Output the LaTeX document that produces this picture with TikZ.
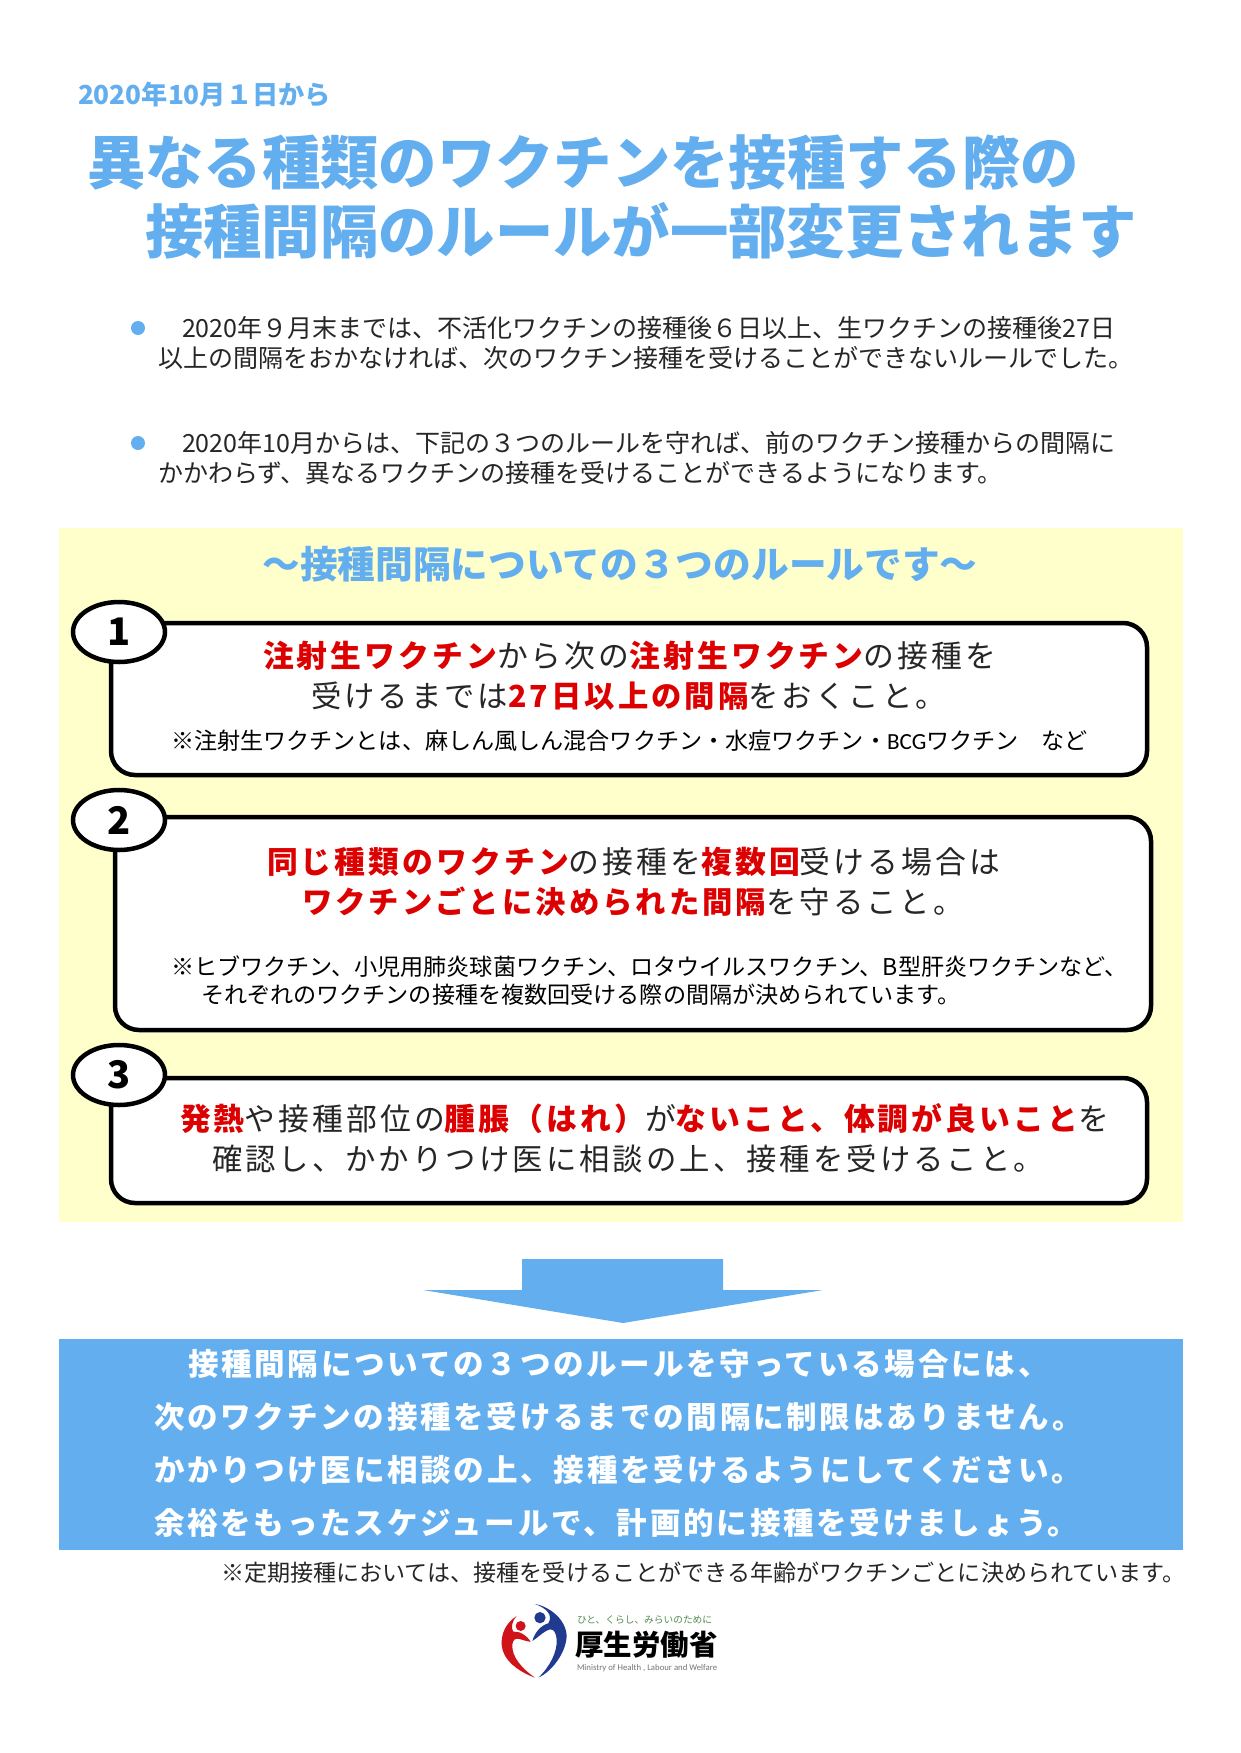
\documentclass[tikz,border=0pt]{standalone}
\usepackage{fontspec}
\usepackage{xcolor}
\usetikzlibrary{shapes.geometric}
\setmainfont{Noto Sans CJK JP}
\newfontfamily\carlitofont{Carlito}
\definecolor{skyblue}{HTML}{63AEEE}
\definecolor{paleyellow}{HTML}{FFFFCC}
\definecolor{rulered}{HTML}{DD0000}
\definecolor{mhlwred}{HTML}{D0121B}
\definecolor{mhlwblue}{HTML}{1F3A8F}
\definecolor{mhlwgreen}{HTML}{4F8A4F}
\newcommand{\hot}[1]{\textcolor{rulered}{\bfseries #1}}
\newcommand{\sized}[2]{\fontsize{#1}{#1}\selectfont\addfontfeature{LetterSpace=#2}}

\begin{document}
\begin{tikzpicture}[x=1pt,y=-1pt]%
  \tikzstyle{every node}=[inner sep=0,outer sep=0,anchor=west]
  \tikzstyle{datehead}=[text=skyblue,font=\sized{26.2}{0}\bfseries]
  \tikzstyle{bighead}=[text=skyblue,font=\sized{58.35}{0}\bfseries]
  \tikzstyle{bodyline}=[text=black!85,font=\sized{25}{0}]
  \tikzstyle{dotmark}=[circle,fill=skyblue,minimum size=14,anchor=center]
  \tikzstyle{rulehead}=[text=skyblue,font=\sized{37.7}{0}\bfseries,anchor=center]
  \tikzstyle{rulebox}=[rectangle,draw=black,fill=white,line width=4.5,rounded corners=24,anchor=north west]
  \tikzstyle{numoval}=[ellipse,draw=black,fill=white,line width=4.5,minimum width=92,minimum height=60,
    font=\sized{38}{0}\bfseries,anchor=center]
  \tikzstyle{ruleline}=[text=black!85,font=\sized{30.8}{10}]
  \tikzstyle{ruletail}=[text=black!85,font=\sized{30.35}{10}]
  \tikzstyle{noteline}=[text=black,font=\sized{23.1}{0}]
  \tikzstyle{whiteline}=[text=white,font=\sized{30.55}{9}\bfseries]
  \useasboundingbox (0,0) rectangle (1240,1753);

  \node (date) [datehead] at (78,95) {2020年10月１日から};
  \node (titlea) [bighead] at (87,162) {異なる種類のワクチンを接種する際の};
  \node (titleb) [bighead] at (145,231) {接種間隔のルールが一部変更されます};

  \node (dota) [dotmark] at (138,328) {};
  \node (parala) [bodyline] at (182,328) {2020年９月末までは、不活化ワクチンの接種後６日以上、生ワクチンの接種後27日};
  \node (paralb) [bodyline] at (158,358) {以上の間隔をおかなければ、次のワクチン接種を受けることができないルールでした。};
  \node (dotb) [dotmark] at (138,443) {};
  \node (parbla) [bodyline] at (182,443) {2020年10月からは、下記の３つのルールを守れば、前のワクチン接種からの間隔に};
  \node (parblb) [bodyline] at (158,473) {かかわらず、異なるワクチンの接種を受けることができるようになります。};

  % yellow panel
  \node (panel) [rectangle,fill=paleyellow,minimum width=1124,minimum height=694,anchor=north west] at (59,528) {};
  \node (panelhead) [rulehead] at (620,564) {～接種間隔についての３つのルールです～};

  \node (boxa) [rulebox,minimum width=1036,minimum height=152] at (111,623) {};
  \node (boxb) [rulebox,minimum width=1036,minimum height=213] at (115,817) {};
  \node (boxc) [rulebox,minimum width=1036,minimum height=125] at (111,1078) {};
  \node (ovala) [numoval] at (119,632) {1};
  \node (ovalb) [numoval] at (119,820) {2};
  \node (ovalc) [numoval] at (119,1075) {3};

  \node (ruleaa) [ruleline] at (263,656) {\hot{注射生ワクチン}から次の\hot{注射生ワクチン}の接種を};
  \node (ruleab) [ruletail] at (311,696) {受けるまでは\hot{27日以上の間隔}をおくこと。};
  \node (notea) [noteline] at (171,741) {※注射生ワクチンとは、麻しん風しん混合ワクチン・水痘ワクチン・{\carlitofont BCG}ワクチン　など};

  \node (ruleba) [ruleline] at (267,862) {\hot{同じ種類のワクチン}の接種を\hot{複数回}受ける場合は};
  \node (rulebb) [ruletail] at (302,902) {\hot{ワクチンごとに決められた間隔}を守ること。};
  \node (noteba) [noteline] at (171,967) {※ヒブワクチン、小児用肺炎球菌ワクチン、ロタウイルスワクチン、B型肝炎ワクチンなど、};
  \node (notebb) [noteline] at (201,995) {それぞれのワクチンの接種を複数回受ける際の間隔が決められています。};

  \node (ruleca) [ruleline] at (180,1119) {\hot{発熱}や接種部位の\hot{腫脹（はれ）}が\hot{ないこと、体調が良いこと}を};
  \node (rulecb) [ruletail] at (212,1159) {確認し、かかりつけ医に相談の上、接種を受けること。};

  % down arrow and blue panel
  \fill[skyblue] (522,1259) -- (723,1259) -- (723,1290) -- (823,1290) -- (623,1323)
    -- (423,1290) -- (522,1290) -- cycle;
  \node (bluepanel) [rectangle,fill=skyblue,minimum width=1124,minimum height=211,anchor=north west] at (59,1339) {};
  \node (bluea) [whiteline] at (188,1364) {接種間隔についての３つのルールを守っている場合には、};
  \node (blueb) [whiteline] at (154,1417) {次のワクチンの接種を受けるまでの間隔に制限はありません。};
  \node (bluec) [whiteline] at (154,1470) {かかりつけ医に相談の上、接種を受けるようにしてください。};
  \node (blued) [whiteline] at (154,1523) {余裕をもったスケジュールで、計画的に接種を受けましょう。};
  \node (footnote) [text=black!85,font=\sized{23.08}{0}] at (221,1573) {※定期接種においては、接種を受けることができる年齢がワクチンごとに決められています。};

  % logo
  \begin{scope}[shift={(400,1540)},x=0.3333pt,y=-0.3333pt]
    \fill[mhlwred] (350,228) .. controls (315,250) and (303,285) .. (305,315)
      .. controls (308,360) and (355,395) .. (405,413)
      .. controls (365,385) and (335,350) .. (337,315)
      .. controls (338,300) and (345,292) .. (362,298)
      .. controls (375,302) and (385,305) .. (392,305)
      .. controls (380,285) and (355,272) .. (340,275)
      .. controls (332,265) and (335,245) .. (350,228) -- cycle;
    \fill[mhlwblue] (405,192) .. controls (450,200) and (500,240) .. (500,290)
      .. controls (497,340) and (455,395) .. (415,413)
      .. controls (450,380) and (472,335) .. (470,300)
      .. controls (468,270) and (455,262) .. (440,272)
      .. controls (425,280) and (410,295) .. (397,303)
      .. controls (405,275) and (425,255) .. (445,250)
      .. controls (460,225) and (440,205) .. (405,192) -- cycle;
    \fill[mhlwred] (362,258) circle (15);
    \fill[mhlwblue] (420,233) circle (17);
  \end{scope}
  \node (logotag) [text=mhlwgreen,font=\sized{9.7}{0}] at (577,1620) {ひと、くらし、みらいのために};
  \node (logoname) [text=black,font=\sized{28.5}{0}\bfseries] at (575,1645) {厚生労働省};
  \node (logoen) [text=black!55,font=\carlitofont\sized{8.75}{0}] at (577,1668) {Ministry of Health , Labour and Welfare};
\end{tikzpicture}
\end{document}
